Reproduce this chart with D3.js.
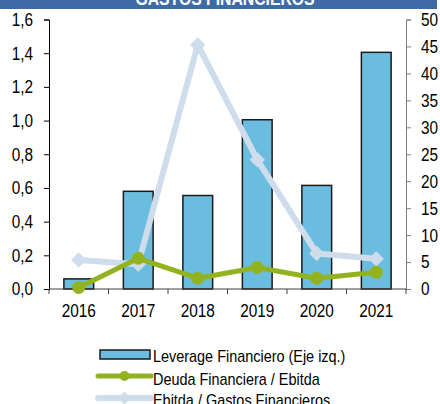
<!DOCTYPE html>
<html>
<head>
<meta charset="utf-8">
<script src="https://cdn.jsdelivr.net/npm/d3@7"></script>
<style>
  body { margin: 0; background: #fff; }
  text { font-family: "Liberation Sans", Arial, sans-serif; }
</style>
</head>
<body>
<div id="chart"></div>
<script>
// data
const years = ["2016", "2017", "2018", "2019", "2020", "2021"];
const leverage = [0.06, 0.58, 0.555, 1.005, 0.615, 1.405];
const deudaEbitda = [0.3, 5.7, 2.0, 4.0, 2.0, 3.1];
const ebitdaGastos = [5.4, 4.6, 45.3, 24, 6.6, 5.6];
const leftTicks = [0, 0.2, 0.4, 0.6, 0.8, 1.0, 1.2, 1.4, 1.6];
const rightTicks = [0, 5, 10, 15, 20, 25, 30, 35, 40, 45, 50];
const legLabels = ["Leverage Financiero (Eje izq.)", "Deuda Financiera / Ebitda", "Ebitda / Gastos Financieros"];

const W = 440, H = 404;
const margin = {top: 19.5, right: 34, bottom: 115, left: 49};
const width = W - margin.left - margin.right,
  height = H - margin.top - margin.bottom;

// the original uses a narrow font: squeeze the text horizontally
const K = 0.83;
function narrow(sel) {
  sel.each(function() {
    const t = d3.select(this);
    const x0 = +t.attr("x") || 0;
    t.attr("x", x0 / K).attr("transform", `scale(${K},1)`);
  });
}

const svg = d3.select("#chart").append("svg")
  .attr("width", W).attr("height", H);

// title band (cut off at the top)
svg.append("rect").attr("x", 0).attr("y", 0).attr("width", 437).attr("height", 9)
  .attr("fill", "#3e6ba6");
svg.append("text").attr("x", 225).attr("y", 5).attr("text-anchor", "middle")
  .attr("fill", "#fff").style("font-size", "19px").style("font-weight", "bold")
  .text("GASTOS FINANCIEROS")
  .call(narrow);

const g = svg.append("g").attr("transform", `translate(${margin.left},${margin.top})`);

const x = d3.scaleBand().domain(years).range([0, width]);
const yL = d3.scaleLinear().domain([0, 1.6]).range([height, 0]);
const yR = d3.scaleLinear().domain([0, 50]).range([height, 0]);

const comma = d => d3.format(".1f")(d).replace(".", ",");

// left axis
const axL = g.append("g")
  .call(d3.axisLeft(yL).tickValues(leftTicks).tickFormat(comma).tickSize(5).tickPadding(11));
axL.selectAll("path, line").attr("stroke", "#000");
axL.selectAll("text").style("font-size", "18.5px").attr("fill", "#000").call(narrow);

// right axis
const axR = g.append("g").attr("transform", `translate(${width},0)`)
  .call(d3.axisRight(yR).tickValues(rightTicks).tickSize(5).tickPadding(10));
axR.selectAll("path, line").attr("stroke", "#7f7f7f");
axR.selectAll("text").style("font-size", "18.5px").attr("fill", "#000").call(narrow);

// bars
g.selectAll("rect.bar").data(years).enter().append("rect")
  .attr("class", "bar")
  .attr("x", d => x(d) + x.bandwidth() * 0.25)
  .attr("width", x.bandwidth() * 0.5)
  .attr("y", (d, i) => yL(leverage[i]))
  .attr("height", (d, i) => height - yL(leverage[i]))
  .attr("fill", "#6bbde0").attr("stroke", "#1a1a1a").attr("stroke-width", 1.5);

// bottom axis, ticks at category boundaries
const xb = g.append("g").attr("transform", `translate(0,${height})`);
xb.append("line").attr("x1", 0).attr("x2", width).attr("stroke", "#404040").attr("stroke-width", 1.2);
xb.selectAll("line.tk").data(d3.range(years.length + 1)).enter().append("line")
  .attr("class", "tk")
  .attr("x1", i => i * x.step()).attr("x2", i => i * x.step())
  .attr("y1", 0).attr("y2", 5).attr("stroke", "#404040");
xb.selectAll("text").data(years).enter().append("text")
  .attr("x", d => x(d) + x.bandwidth() / 2).attr("y", 28)
  .attr("text-anchor", "middle").style("font-size", "18.5px").text(d => d)
  .call(narrow);

const cx = d => x(d) + x.bandwidth() / 2;

// Ebitda / Gastos Financieros (right axis)
const lightBlue = "#cfdcec";
g.append("path").datum(ebitdaGastos)
  .attr("d", d3.line().x((d, i) => cx(years[i])).y(d => yR(d)))
  .attr("fill", "none").attr("stroke", lightBlue).attr("stroke-width", 6)
  .attr("stroke-linejoin", "round");
g.selectAll("path.dia").data(ebitdaGastos).enter().append("path")
  .attr("class", "dia")
  .attr("transform", (d, i) => `translate(${cx(years[i])},${yR(d)})`)
  .attr("d", d3.symbol(d3.symbolDiamond2, 150))
  .attr("fill", lightBlue);

// Deuda Financiera / Ebitda (right axis)
const green = "#92b31f";
g.append("path").datum(deudaEbitda)
  .attr("d", d3.line().x((d, i) => cx(years[i])).y(d => yR(d)))
  .attr("fill", "none").attr("stroke", green).attr("stroke-width", 5)
  .attr("stroke-linejoin", "round");
g.selectAll("circle.dot").data(deudaEbitda).enter().append("circle")
  .attr("class", "dot")
  .attr("cx", (d, i) => cx(years[i])).attr("cy", d => yR(d))
  .attr("r", 6.5).attr("fill", green);

// legend
const leg = svg.append("g");
leg.append("rect").attr("x", 100).attr("y", 350).attr("width", 50).attr("height", 9)
  .attr("fill", "#6bbde0").attr("stroke", "#1a1a1a").attr("stroke-width", 1.5);
leg.append("line").attr("x1", 98).attr("x2", 151).attr("y1", 376).attr("y2", 376)
  .attr("stroke", green).attr("stroke-width", 5).attr("stroke-linecap", "round");
leg.append("circle").attr("cx", 124.5).attr("cy", 376).attr("r", 5).attr("fill", green);
leg.append("line").attr("x1", 98).attr("x2", 151).attr("y1", 398).attr("y2", 398)
  .attr("stroke", lightBlue).attr("stroke-width", 6).attr("stroke-linecap", "round");
leg.append("path").attr("transform", "translate(124.5,398)")
  .attr("d", d3.symbol(d3.symbolDiamond2, 110)).attr("fill", lightBlue);

const legY = [362, 385, 406.5];
leg.selectAll("text").data(legLabels).enter().append("text")
  .attr("x", 153).attr("y", (d, i) => legY[i])
  .style("font-size", "17.4px").text(d => d)
  .call(narrow);
</script>
</body>
</html>
